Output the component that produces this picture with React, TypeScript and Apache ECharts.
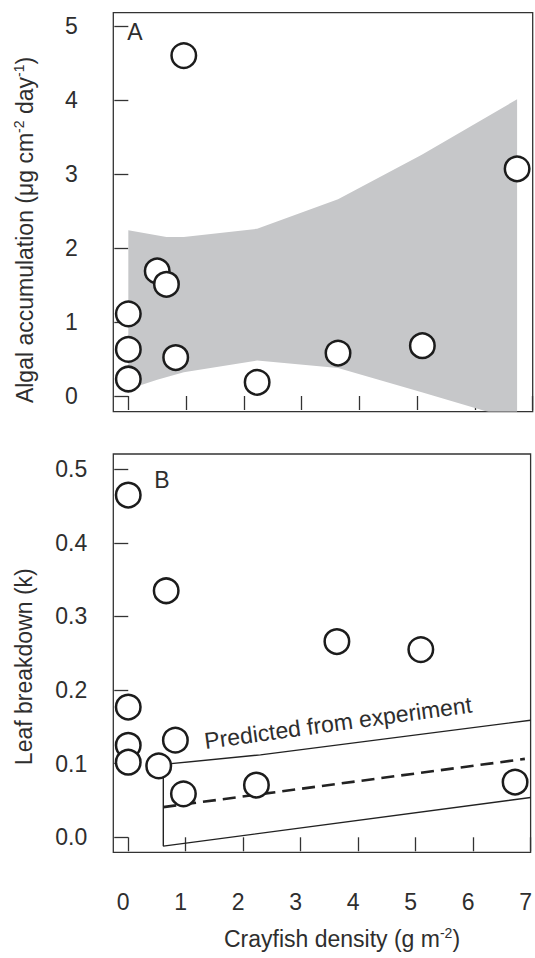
import React, { useEffect, useRef } from 'react';
import * as echarts from 'echarts';

// ---------- data ----------
const xTicks = [0, 1, 2, 3, 4, 5, 6, 7];
const algalTicks = [0, 1, 2, 3, 4, 5];
const leafTicks = [0, 0.1, 0.2, 0.3, 0.4, 0.5];

// Panel A: algal accumulation
const algalDensity = [0.96, 6.73, 0.5, 0.66, 0, 0, 0, 0.82, 2.23, 3.63, 5.09];
const algalValues = [4.6, 3.07, 1.69, 1.51, 1.11, 0.63, 0.23, 0.52, 0.185, 0.58, 0.68];

// Panel A: confidence band
const bandUpperX = [0, 0.66, 0.96, 2.23, 3.63, 5.08, 6.73];
const bandUpperY = [2.24, 2.15, 2.15, 2.26, 2.66, 3.26, 4.01];
const bandLowerX = [0, 0.5, 0.96, 2.23, 3.63, 5.08, 6.73];
const bandLowerY = [0.09, 0.22, 0.32, 0.48, 0.38, 0.05, -0.33];

// Panel B: leaf breakdown
const leafDensity = [0, 0.66, 3.63, 5.09, 0, 0, 0, 0.82, 0.53, 0.96, 2.23, 6.73];
const leafValues = [0.465, 0.335, 0.266, 0.255, 0.177, 0.125, 0.102, 0.132, 0.097, 0.059, 0.071, 0.075];

// Panel B: prediction from experiment
const predOuterX = [7, 2.3, 0.61, 0.61, 7];
const predOuterY = [0.159, 0.112, 0.099, -0.012, 0.054];
const predMeanX = [0.61, 6.9];
const predMeanY = [0.041, 0.1065];
const predLabel = ['Predicted from experiment'];
const predLabelPos = [[3.65, 0.1556]];

// ---------- styles ----------
const FONT = '"Liberation Sans", Arial, Helvetica, sans-serif';
const INK = '#2e2e2e';
const FS = 23;

const zip = (xs: number[], ys: number[]) => xs.map((x, i) => [x, ys[i]]);

export default function App() {
  const ref = useRef<HTMLDivElement>(null);

  useEffect(() => {
    if (!ref.current) return;
    const chart = echarts.init(ref.current, undefined, { renderer: 'svg' });

    const tickStyle = { color: '#333', width: 1.3 };
    const gridCommon = {
      left: 113.3,
      width: 419.4,
      show: true,
      borderColor: '#333',
      borderWidth: 1.3,
      backgroundColor: 'transparent',
    };
    const labelCommon = { fontSize: FS, color: INK, fontFamily: FONT };

    const option: any = {
      animation: false,
      grid: [
        { ...gridCommon, top: 12.7, height: 399 },
        { ...gridCommon, top: 454, height: 398.3 },
      ],
      xAxis: [
        {
          gridIndex: 0,
          type: 'value',
          min: -0.26,
          max: 7,
          axisLine: { show: false },
          splitLine: { show: false },
          axisTick: { show: true, length: 14, lineStyle: tickStyle, customValues: xTicks },
          axisLabel: { show: false },
        },
        {
          gridIndex: 1,
          type: 'value',
          min: -0.26,
          max: 7,
          axisLine: { show: false },
          splitLine: { show: false },
          axisTick: { show: true, length: 14, lineStyle: tickStyle, customValues: xTicks },
          axisLabel: {
            ...labelCommon,
            show: true,
            customValues: xTicks,
            margin: 38,
            padding: [0, 10, 0, 0],
            formatter: (v: number) => String(v),
          },
        },
      ],
      yAxis: [
        {
          gridIndex: 0,
          type: 'value',
          min: -0.212,
          max: 5.18,
          axisLine: { show: false },
          splitLine: { show: false },
          axisTick: { show: true, length: 14, lineStyle: tickStyle, customValues: algalTicks },
          axisLabel: {
            ...labelCommon,
            customValues: algalTicks,
            align: 'center',
            margin: 42,
            formatter: (v: number) => String(Math.round(v)),
          },
        },
        {
          gridIndex: 1,
          type: 'value',
          min: -0.0204,
          max: 0.5208,
          axisLine: { show: false },
          splitLine: { show: false },
          axisTick: { show: true, length: 14, lineStyle: tickStyle, customValues: leafTicks },
          axisLabel: {
            ...labelCommon,
            customValues: leafTicks,
            align: 'center',
            margin: 42,
            formatter: (v: number) => v.toFixed(1),
          },
        },
      ],
      series: [
        {
          type: 'custom',
          xAxisIndex: 0,
          yAxisIndex: 0,
          clip: true,
          z: 1,
          silent: true,
          data: [[0, 0]],
          renderItem: (params: any, api: any) => {
            const up = bandUpperX.map((x, i) => api.coord([x, bandUpperY[i]]));
            const lo = bandLowerX.map((x, i) => api.coord([x, bandLowerY[i]])).reverse();
            const cs = params.coordSys;
            return {
              type: 'group',
              clipPath: { type: 'rect', shape: { x: cs.x, y: cs.y, width: cs.width, height: cs.height } },
              children: [
                {
                  type: 'polygon',
                  shape: { points: up.concat(lo) },
                  style: { fill: '#c6c7c9', stroke: 'none' },
                },
              ],
            };
          },
        },
        {
          type: 'scatter',
          xAxisIndex: 0,
          yAxisIndex: 0,
          z: 5,
          clip: false,
          symbol: 'circle',
          symbolSize: 24.5,
          itemStyle: { color: '#ffffff', borderColor: '#1c1c1c', borderWidth: 2.5, opacity: 1 },
          data: zip(algalDensity, algalValues),
        },
        {
          type: 'line',
          xAxisIndex: 1,
          yAxisIndex: 1,
          z: 3,
          symbol: 'none',
          silent: true,
          lineStyle: { color: '#222', width: 1.4 },
          data: zip(predOuterX, predOuterY),
        },
        {
          type: 'line',
          xAxisIndex: 1,
          yAxisIndex: 1,
          z: 3,
          symbol: 'none',
          silent: true,
          lineStyle: { color: '#222', width: 2.6, type: [13, 7] },
          data: zip(predMeanX, predMeanY),
        },
        {
          type: 'custom',
          xAxisIndex: 1,
          yAxisIndex: 1,
          z: 4,
          silent: true,
          clip: false,
          data: predLabelPos.map((p, i) => [p[0], p[1], i]),
          renderItem: (params: any, api: any) => {
            const pt = api.coord([api.value(0), api.value(1)]);
            return {
              type: 'text',
              x: pt[0],
              y: pt[1],
              rotation: 0.136,
              style: {
                text: predLabel[params.dataIndex],
                fill: INK,
                fontSize: FS,
                fontFamily: FONT,
                font: `${FS}px ${FONT}`,
                align: 'center',
                verticalAlign: 'middle',
                textAlign: 'center',
                textVerticalAlign: 'middle',
              },
            };
          },
        },
        {
          type: 'scatter',
          xAxisIndex: 1,
          yAxisIndex: 1,
          z: 5,
          clip: false,
          symbol: 'circle',
          symbolSize: 24.5,
          itemStyle: { color: '#ffffff', borderColor: '#1c1c1c', borderWidth: 2.5, opacity: 1 },
          data: zip(leafDensity, leafValues),
        },
      ],
      graphic: [
        {
          type: 'text',
          x: 135,
          y: 31.7,
          style: { text: 'A', fill: INK, font: `${FS}px ${FONT}`, align: 'center', verticalAlign: 'middle' },
        },
        {
          type: 'text',
          x: 162,
          y: 480,
          style: { text: 'B', fill: INK, font: `${FS}px ${FONT}`, align: 'center', verticalAlign: 'middle' },
        },
        {
          type: 'text',
          x: 25,
          y: 230,
          rotation: Math.PI / 2,
          style: {
            text: '{n|Algal accumulation (μg cm}{s|-2}{n| day}{s|-1}{n|)}',
            align: 'center',
            verticalAlign: 'middle',
            rich: {
              n: { fontSize: FS, fontFamily: FONT, fill: INK, color: INK, lineHeight: 26 },
              s: { fontSize: 14, fontFamily: FONT, fill: INK, color: INK, lineHeight: 14, verticalAlign: 'top' },
            },
          },
        },
        {
          type: 'text',
          x: 24,
          y: 666.7,
          rotation: Math.PI / 2,
          style: {
            text: 'Leaf breakdown (k)',
            fill: INK,
            font: `${FS}px ${FONT}`,
            align: 'center',
            verticalAlign: 'middle',
          },
        },
        {
          type: 'text',
          x: 342,
          y: 939,
          style: {
            text: '{n|Crayfish density (g m}{s|-2}{n|)}',
            align: 'center',
            verticalAlign: 'middle',
            rich: {
              n: { fontSize: FS, fontFamily: FONT, fill: INK, color: INK, lineHeight: 26 },
              s: { fontSize: 14, fontFamily: FONT, fill: INK, color: INK, lineHeight: 14, verticalAlign: 'top' },
            },
          },
        },
      ],
    };

    chart.setOption(option);
    return () => chart.dispose();
  }, []);

  return (
    <div
      ref={ref}
      style={{ position: 'absolute', left: 0, top: 0, width: 535, height: 958, background: '#fff' }}
    />
  );
}
